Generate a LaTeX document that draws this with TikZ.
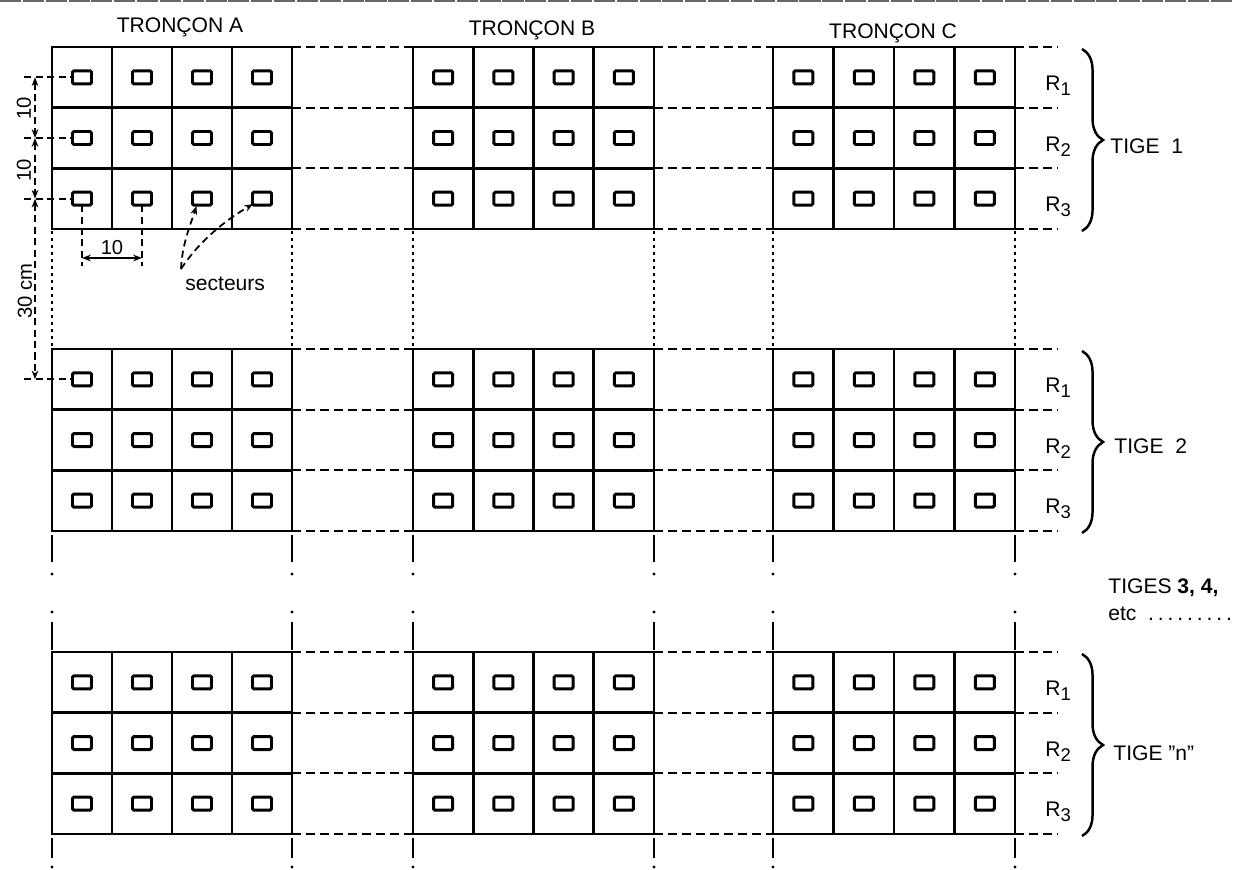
\documentclass[tikz,border=0pt]{standalone}
\usepackage{fontspec}
\setmainfont{Liberation Sans}
\usetikzlibrary{decorations.pathreplacing,arrows.meta}
\begin{document}
\begin{tikzpicture}[x=0.02cm,y=-0.02cm,
  gridline/.style={line width=1.6pt},
  cellmark/.style={line width=1.7pt,rounded corners=0.8pt},
  hdash/.style={line width=1.1pt,dash pattern=on 5pt off 3pt},
  vdot/.style={line width=1.1pt,dash pattern=on 1.5pt off 2.5pt},
  vseg/.style={line width=1.1pt},
  lbl/.style={font=\fontsize{12}{14}\selectfont,inner sep=0pt},
  dimlbl/.style={font=\fontsize{11.5}{13}\selectfont,inner sep=0pt},
  dimline/.style={line width=1pt,dash pattern=on 4pt off 2.5pt},
  tip/.style={{Stealth[length=5pt,width=3.8pt]}-{Stealth[length=5pt,width=3.8pt]}},
  endtip/.style={-{Stealth[length=5pt,width=3.8pt]}},
  tigebrace/.style={line width=1.4pt,decorate,decoration={brace,amplitude=12pt,aspect=0.5}}
]
\useasboundingbox (0,0) rectangle (1233,869);
% scan edge at top
\draw[black!60,line width=1.2pt,dash pattern=on 12pt off 1pt] (0,1) -- (1233,1);

% grids
\foreach \ty in {47,349,652}{
  \foreach \tx/\tw in {52/240,413/241,773/242}{
    \draw[gridline] (\tx,\ty) rectangle ++(\tw,182);
    \foreach \k in {1,2,3}{
      \draw[gridline] ({\tx+\k*\tw/4},\ty) -- ++(0,182);
    }
    \foreach \k in {1,2}{
      \draw[gridline] (\tx,{\ty+\k*182/3}) -- ++(\tw,0);
    }
    \foreach \i in {0,1,2,3}{
      \foreach \j in {0,1,2}{
        \draw[cellmark] ({\tx+(\i+0.5)*\tw/4-9.5},{\ty+(\j+0.5)*182/3-6.5}) rectangle ++(19,13);
      }
    }
  }
  \foreach \k in {0,1,2,3}{
    \draw[hdash] (292,{\ty+\k*182/3}) -- (413,{\ty+\k*182/3});
    \draw[hdash] (654,{\ty+\k*182/3}) -- (773,{\ty+\k*182/3});
    \draw[hdash] (1015,{\ty+\k*182/3}) -- (1058,{\ty+\k*182/3});
  }
}

% vertical continuation lines
\foreach \x in {52,292,413,654,773,1015}{
  \draw[vdot] (\x,231) -- (\x,349);
  \draw[vseg] (\x,535) -- (\x,562);
  \fill (\x,574) circle (1.7);
  \fill (\x,612) circle (1.7);
  \draw[vseg] (\x,622) -- (\x,650);
  \draw[vseg] (\x,838) -- (\x,858);
  \fill (\x,867) circle (1.7);
}

% headings
\node[lbl,anchor=base] (ta) at (180,32) {TRONÇON A};
\node[lbl,anchor=base] (tb) at (532,35) {TRONÇON B};
\node[lbl,anchor=base] (tc) at (893,38) {TRONÇON C};

% row labels and braces
\foreach \ty/\nm in {47/1,349/2,652/3}{
  \foreach \j in {1,2,3}{
    \node[lbl,anchor=base west] (r\nm\j) at (1045,{\ty+(\j-0.5)*182/3+13}) {R\raisebox{-0.45ex}{\fontsize{10.5}{12}\selectfont\j}};
  }
  \draw[tigebrace] (1082,{\ty+2}) -- (1082,{\ty+184});
}
\node[lbl,anchor=base west] (tige1) at (1110,153) {TIGE~~1};
\node[lbl,anchor=base west] (tige2) at (1114,453) {TIGE~~2};
\node[lbl,anchor=base west] (tigen) at (1113,760) {TIGE \textquotedblright n\textquotedblright};
\node[lbl,anchor=base west] (tiges) at (1108,593) {TIGES \textbf{3, 4,}};
\node[lbl,anchor=base west] (etc) at (1108,620) {etc\ \ .\kern2.2pt.\kern2.2pt.\kern2.2pt.\kern2.2pt.\kern2.2pt.\kern2.2pt.\kern2.2pt.\kern2.2pt.};

% vertical dimensions
\coordinate (d1) at (35,77.3);
\coordinate (d2) at (35,138);
\coordinate (d3) at (35,198.7);
\coordinate (d4) at (35,379.3);
\coordinate (e1) at (72.5,77.3);
\coordinate (e2) at (72.5,138);
\coordinate (e3) at (72.5,198.7);
\coordinate (e4) at (72.5,379.3);
\foreach \n in {1,2,3,4}{
  \draw[dimline] ([xshift=-6]d\n) -- (e\n);
}
\draw[dimline,tip] (d1) -- (d2);
\draw[dimline,tip] (d2) -- (d3);
\draw[dimline,tip] (d3) -- (d4);
\node[dimlbl,rotate=90] (v10a) at (24,108) {10};
\node[dimlbl,rotate=90] (v10b) at (24,170) {10};
\node[dimlbl,rotate=90] (v30) at (25,291) {30 cm};

% horizontal dimension
\coordinate (h1) at (82,205.2);
\coordinate (h2) at (142,205.2);
\coordinate (h1b) at (82,266);
\coordinate (h2b) at (142,266);
\draw[dimline] (h1) -- (h1b);
\draw[dimline] (h2) -- (h2b);
\coordinate (a1) at (82,258);
\coordinate (a2) at (142,258);
\draw[line width=1pt,tip] (a1) -- (a2);
\node[dimlbl,anchor=base] (h10) at (112,254) {10};

% secteurs
\node[lbl,anchor=base west] (sect) at (185,290) {secteurs};
\coordinate (s1) at (196.5,206);
\coordinate (s2) at (253,204);
\coordinate (so) at (181,269);
\draw[dimline,endtip] (so) .. controls (182,245) and (190,226) .. (s1);
\draw[dimline,endtip] (so) .. controls (200,240) and (226,220) .. (s2);
\end{tikzpicture}
\end{document}
